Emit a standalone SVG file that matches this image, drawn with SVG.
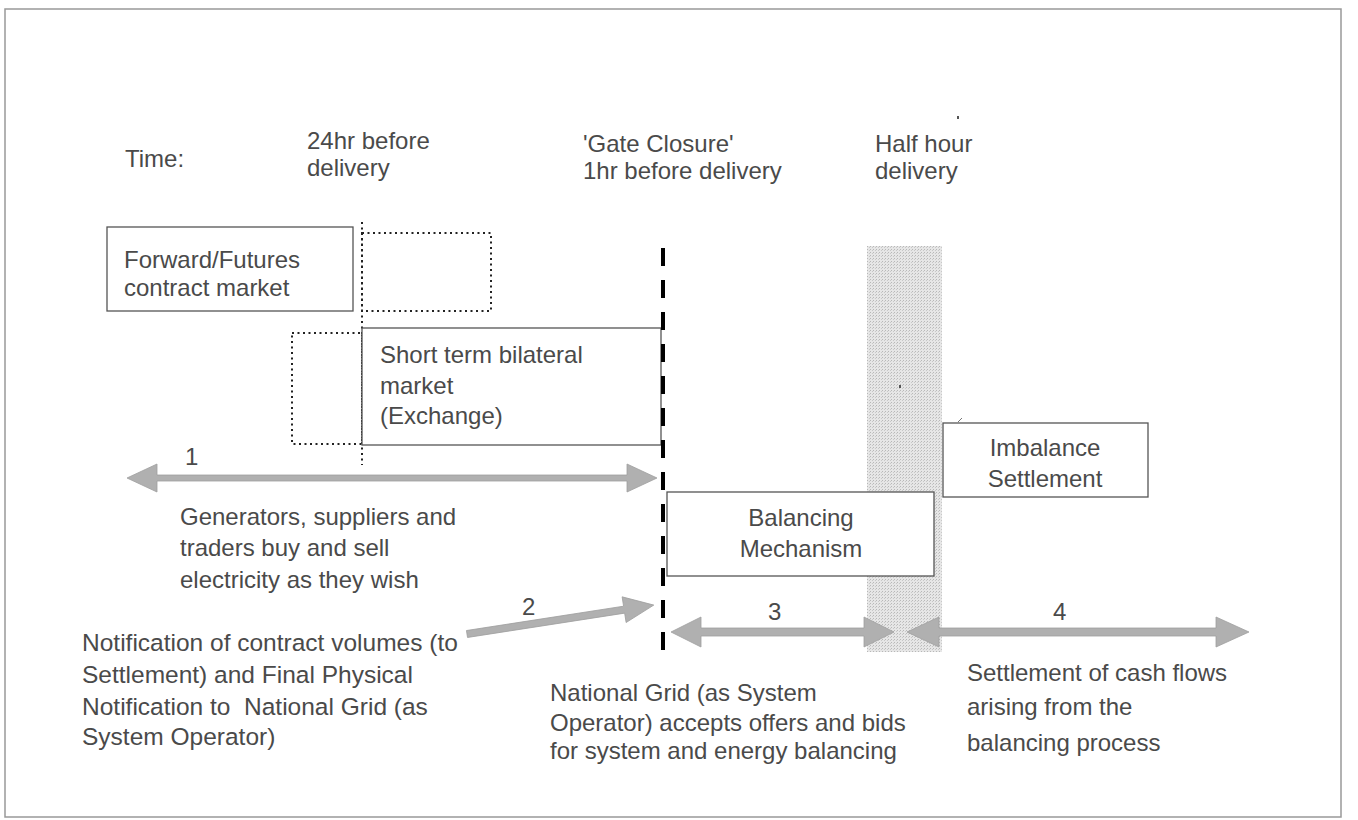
<svg xmlns="http://www.w3.org/2000/svg" width="1358" height="820" viewBox="0 0 1358 820">
<style>
  text { font-family: "Liberation Sans", Arial, sans-serif; font-size: 24px; fill: #4a4a4a; }
  .big { font-size: 24.5px; }
  .box { fill: #fff; stroke: #555; stroke-width: 1.3; }
  .dot { fill: none; stroke: #222; stroke-width: 2; stroke-dasharray: 2 3.5; }
  .arrow { fill: #b0b0b0; stroke: #a0a0a0; stroke-width: 0.8; }
  .mid { text-anchor: middle; }
</style>
<defs>
  <pattern id="stipple" width="3" height="3" patternUnits="userSpaceOnUse">
    <rect width="3" height="3" fill="#e6e6e6"/>
    <rect x="0" y="0" width="1" height="1" fill="#b8b8b8"/>
    <rect x="2" y="1" width="1" height="1" fill="#c8c8c8"/>
  </pattern>
</defs>
<rect width="1358" height="820" fill="#fff"/>
<rect x="5" y="9" width="1336" height="808" fill="none" stroke="#999" stroke-width="1.5"/>

<g id="timeline-labels">
  <text x="125" y="167">Time:</text>
  <text x="307" y="149">24hr before</text>
  <text x="307" y="176">delivery</text>
  <text x="583" y="152">'Gate Closure'</text>
  <text x="583" y="179">1hr before delivery</text>
  <text x="875" y="152">Half hour</text>
  <text x="875" y="179">delivery</text>
  <rect x="957" y="116" width="2" height="3" fill="#555"/>
</g>

<g id="delivery-band">
  <rect x="867" y="246" width="75" height="406" fill="url(#stipple)"/>
  <rect x="899" y="385" width="2" height="3" fill="#555"/>
</g>

<g id="dotted-guides">
  <line x1="362" y1="222" x2="362" y2="465" class="dot"/>
  <rect x="362" y="233" width="129" height="78" class="dot"/>
  <rect x="292" y="333" width="70" height="111" class="dot"/>
</g>

<g id="forward-futures">
  <rect x="107" y="227" width="246" height="84" class="box"/>
  <text x="124" y="268">Forward/Futures</text>
  <text x="124" y="296">contract market</text>
</g>

<g id="short-term">
  <rect x="362" y="328" width="299" height="117" class="box"/>
  <text x="380" y="363">Short term bilateral</text>
  <text x="380" y="394">market</text>
  <text x="380" y="424">(Exchange)</text>
</g>

<g id="balancing-mechanism">
  <rect x="667" y="492" width="267" height="84" class="box"/>
  <text x="801" y="526" class="mid">Balancing</text>
  <text x="801" y="557" class="mid">Mechanism</text>
</g>

<g id="imbalance-settlement">
  <rect x="943" y="423" width="205" height="74" class="box"/>
  <path d="M958,422 L962,418" stroke="#777" stroke-width="1" fill="none"/>
  <text x="1045" y="456" class="mid">Imbalance</text>
  <text x="1045" y="487" class="mid">Settlement</text>
</g>

<g id="gate-closure-line">
  <line x1="663" y1="248" x2="663" y2="650" stroke="#000" stroke-width="4" stroke-dasharray="18 14"/>
</g>

<g id="connectors">
  <polygon class="arrow" points="127,478 157,464 157,475 627,475 627,464 657,478 627,492 627,481 157,481 157,492"/>
  <polygon class="arrow" transform="translate(467,634) rotate(-8.8)" points="0,-3.5 159,-3.5 159,-13 189,0 159,13 159,3.5 0,3.5"/>
  <polygon class="arrow" points="671,632 701,617 701,628 864,628 864,617 894,632 864,647 864,636 701,636 701,647"/>
  <polygon class="arrow" points="907,632 939,617 939,628 1216,628 1216,617 1249,632 1216,647 1216,636 939,636 939,647"/>
</g>

<g id="step-1">
  <text x="185" y="465">1</text>
  <text x="180" y="525">Generators, suppliers and</text>
  <text x="180" y="556">traders buy and sell</text>
  <text x="180" y="588">electricity as they wish</text>
</g>

<g id="step-2">
  <text x="522" y="615">2</text>
  <text x="82" y="651" class="big">Notification of contract volumes (to</text>
  <text x="82" y="683" class="big">Settlement) and Final Physical</text>
  <text x="82" y="715" class="big" xml:space="preserve">Notification to  National Grid (as</text>
  <text x="82" y="745" class="big">System Operator)</text>
</g>

<g id="step-3">
  <text x="768" y="620">3</text>
  <text x="550" y="701">National Grid (as System</text>
  <text x="550" y="731">Operator) accepts offers and bids</text>
  <text x="550" y="759">for system and energy balancing</text>
</g>

<g id="step-4">
  <text x="1053" y="620">4</text>
  <text x="967" y="681">Settlement of cash flows</text>
  <text x="967" y="715">arising from the</text>
  <text x="967" y="751">balancing process</text>
</g>
</svg>
